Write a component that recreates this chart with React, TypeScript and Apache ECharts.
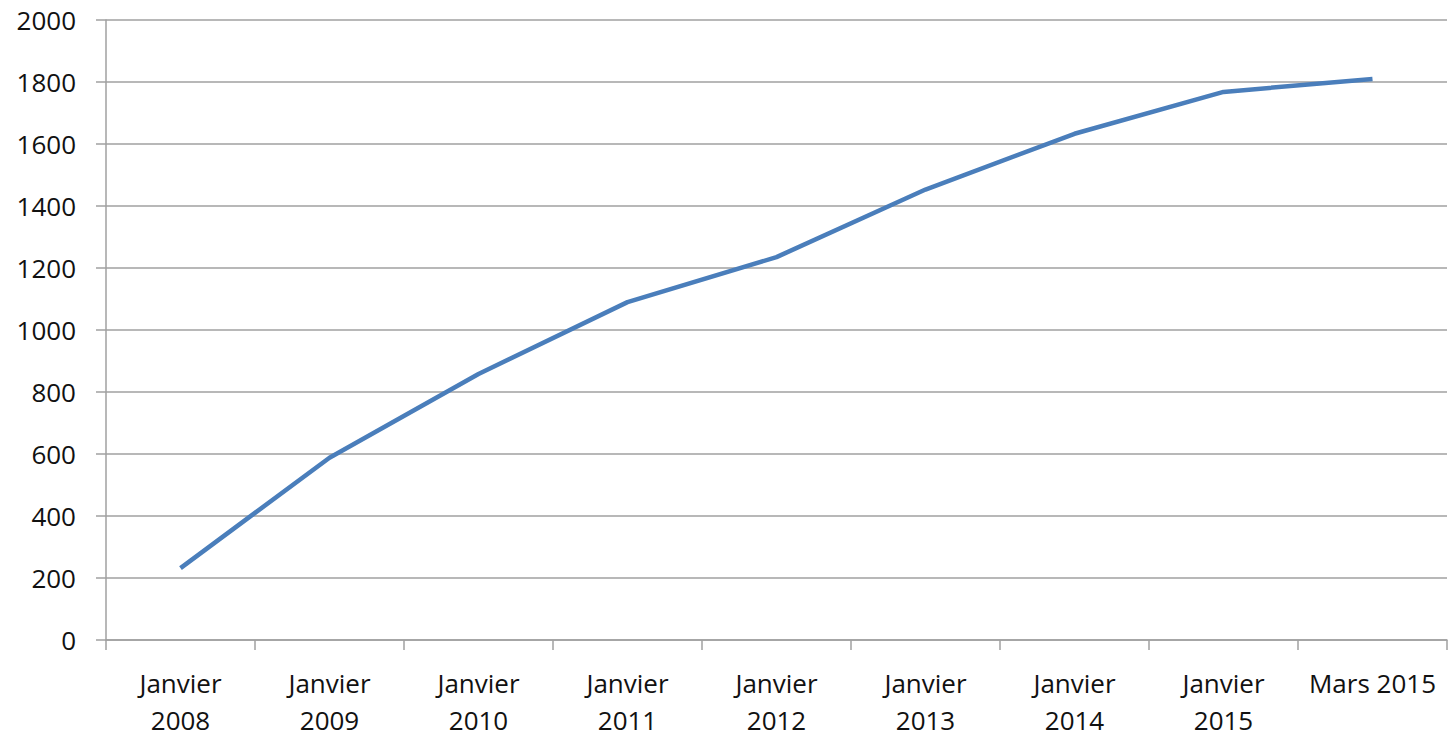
import React, { useEffect, useRef } from "react";
import * as echarts from "echarts";

const categories = [
  "Janvier\n2008",
  "Janvier\n2009",
  "Janvier\n2010",
  "Janvier\n2011",
  "Janvier\n2012",
  "Janvier\n2013",
  "Janvier\n2014",
  "Janvier\n2015",
  "Mars 2015",
];
const values = [232, 588, 858, 1090, 1235, 1453, 1633, 1768, 1810];

export default function App() {
  const ref = useRef<HTMLDivElement>(null);
  useEffect(() => {
    if (!ref.current) return;
    const chart = echarts.init(ref.current, undefined, { renderer: "svg" });
    const axisColor = "#a0a0a0";
    const font = "Open Sans";
    chart.setOption({
      animation: false,
      backgroundColor: "#ffffff",
      grid: { left: 106, right: 9, top: 20, bottom: 96, containLabel: false },
      xAxis: {
        type: "category",
        data: categories,
        boundaryGap: true,
        axisLine: { show: true, lineStyle: { color: axisColor, width: 1.5 } },
        axisTick: { show: true, length: 10, alignWithLabel: false, lineStyle: { color: axisColor, width: 1.5 } },
        axisLabel: {
          color: "#111111",
          fontFamily: font,
          fontSize: 26,
          lineHeight: 37,
          margin: 24,
          interval: 0,
        },
      },
      yAxis: {
        type: "value",
        min: 0,
        max: 2000,
        interval: 200,
        axisLine: { show: true, lineStyle: { color: axisColor, width: 1.5 } },
        axisTick: { show: true, length: 10, lineStyle: { color: axisColor, width: 1.5 } },
        splitLine: { show: true, lineStyle: { color: axisColor, width: 1.5 } },
        axisLabel: {
          color: "#111111",
          fontFamily: font,
          fontSize: 26,
          margin: 30,
          formatter: (v: number) => String(v),
        },
      },
      series: [
        {
          type: "line",
          data: values,
          symbol: "none",
          lineStyle: { color: "#4a7ebb", width: 4.5 },
        },
      ],
    });
    return () => chart.dispose();
  }, []);
  return (
    <div
      ref={ref}
      style={{ position: "fixed", left: 0, top: 0, width: 1456, height: 738, background: "#fff" }}
    />
  );
}
